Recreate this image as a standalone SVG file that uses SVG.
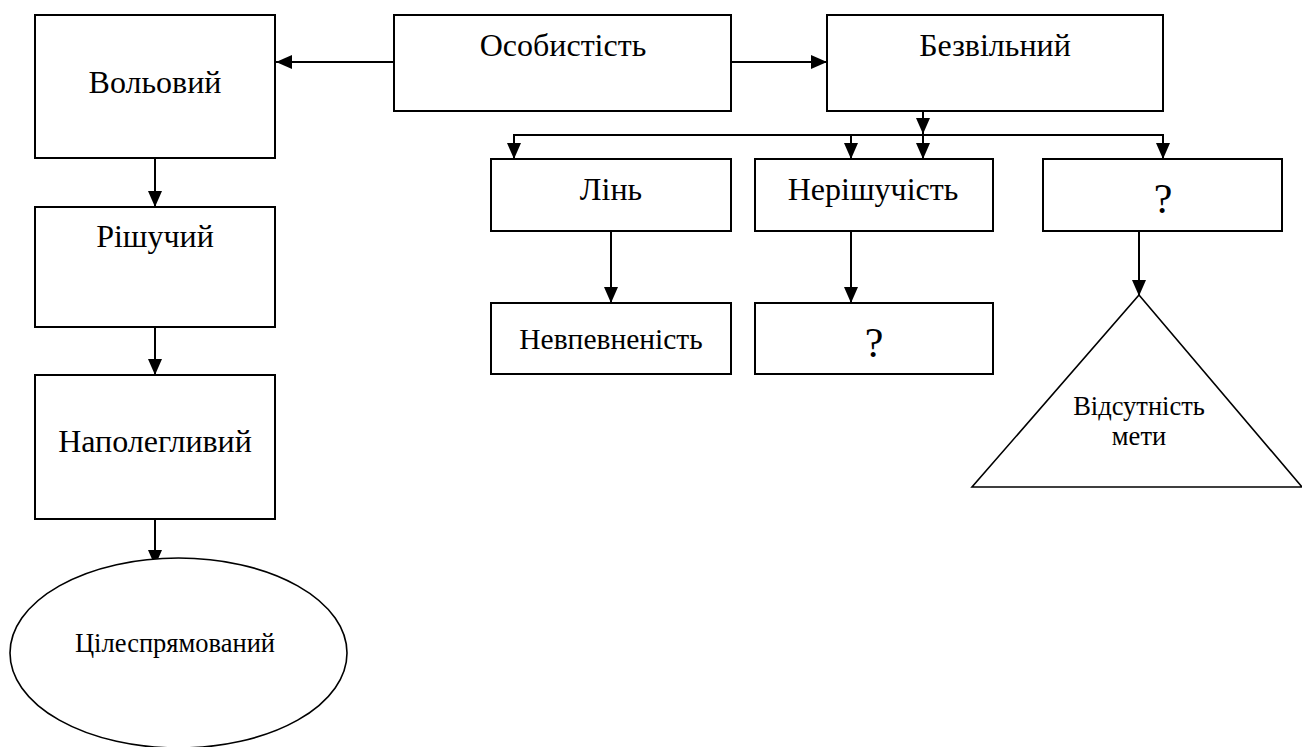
<svg xmlns="http://www.w3.org/2000/svg" width="1302" height="747" viewBox="0 0 1302 747">
<defs>
<marker id="ah" markerUnits="userSpaceOnUse" markerWidth="18" markerHeight="18" viewBox="0 0 18 18" refX="16" refY="9" orient="auto">
<path d="M0,2 L16,9 L0,16 Z" fill="#000"/>
</marker>
</defs>
<style>
.box{fill:#fff;stroke:#000;stroke-width:2}
.shape{fill:#fff;stroke:#000;stroke-width:1.6}
.lbl{font-family:"Liberation Serif","Times New Roman",serif;font-size:32px;fill:#000;text-anchor:middle}
.sm{font-size:26.5px}
.md{font-size:29.5px}
.q{font-size:42px}
.ln{fill:none;stroke:#000;stroke-width:2}
.arr{fill:none;stroke:#000;stroke-width:2;marker-end:url(#ah)}
</style>
<rect width="1302" height="747" fill="#fff"/>
<g id="connectors">
<line class="arr" x1="394" y1="62" x2="276" y2="62"/>
<line class="arr" x1="731" y1="62" x2="827" y2="62"/>
<line class="arr" x1="923" y1="111" x2="923" y2="134"/>
<polyline class="ln" points="514,135 1163,135"/>
<line class="arr" x1="514" y1="134" x2="514" y2="159"/>
<line class="arr" x1="851" y1="135" x2="851" y2="159"/>
<line class="arr" x1="923" y1="135" x2="923" y2="159"/>
<line class="arr" x1="1163" y1="134" x2="1163" y2="159"/>
<line class="arr" x1="611" y1="231" x2="611" y2="303"/>
<line class="arr" x1="851" y1="231" x2="851" y2="303"/>
<line class="arr" x1="1139" y1="231" x2="1139" y2="296"/>
<line class="arr" x1="155" y1="158" x2="155" y2="207"/>
<line class="arr" x1="155" y1="327" x2="155" y2="375"/>
<line class="arr" x1="155" y1="519" x2="155" y2="566"/>
</g>
<g id="n-volovyi">
<rect class="box" x="35" y="15" width="240" height="143"/>
<text class="lbl" x="155" y="93">Вольовий</text>
</g>
<g id="n-osobystist">
<rect class="box" x="394" y="15" width="337" height="96"/>
<text class="lbl" x="563" y="56">Особистість</text>
</g>
<g id="n-bezvilnyi">
<rect class="box" x="827" y="15" width="336" height="96"/>
<text class="lbl" x="995" y="56">Безвільний</text>
</g>
<g id="n-rishuchyi">
<rect class="box" x="35" y="207" width="240" height="120"/>
<text class="lbl" x="155" y="247">Рішучий</text>
</g>
<g id="n-napoleglyvyi">
<rect class="box" x="35" y="375" width="240" height="144"/>
<text class="lbl" x="155" y="452">Наполегливий</text>
</g>
<g id="n-tsilespriamovanyi">
<ellipse class="shape" cx="178.5" cy="653" rx="168.5" ry="95"/>
<text class="lbl sm" x="175" y="652">Цілеспрямований</text>
</g>
<g id="n-lin">
<rect class="box" x="491" y="159" width="240" height="72"/>
<text class="lbl" x="611" y="200">Лінь</text>
</g>
<g id="n-nerishuchist">
<rect class="box" x="755" y="159" width="238" height="72"/>
<text class="lbl" x="873" y="200">Нерішучість</text>
</g>
<g id="n-q1">
<rect class="box" x="1043" y="159" width="239" height="72"/>
<text class="lbl q" x="1163" y="213">?</text>
</g>
<g id="n-nevpevnenist">
<rect class="box" x="491" y="303" width="240" height="71"/>
<text class="lbl md" x="611" y="349">Невпевненість</text>
</g>
<g id="n-q2">
<rect class="box" x="755" y="303" width="238" height="71"/>
<text class="lbl q" x="874" y="357">?</text>
</g>
<g id="n-vidsutnist">
<polygon class="shape" points="1139,295 1302,487 972,487"/>
<text class="lbl sm" x="1139" y="415">Відсутність</text>
<text class="lbl sm" x="1139" y="445">мети</text>
</g>
</svg>
